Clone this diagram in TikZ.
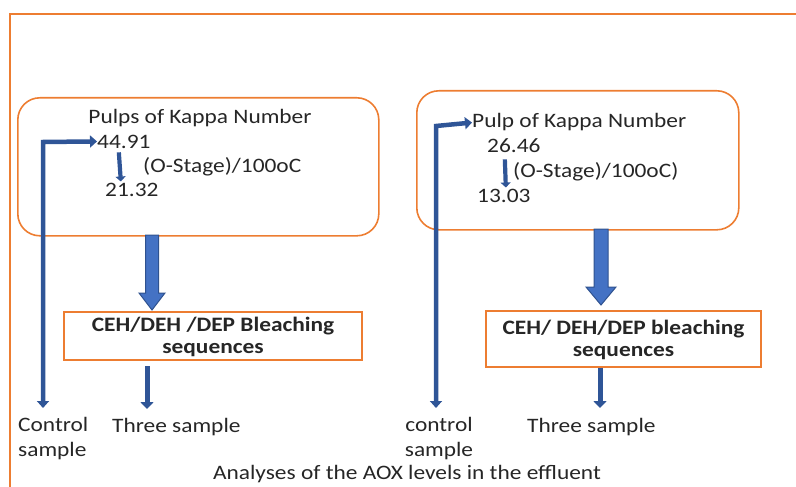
\documentclass[tikz,border=0pt]{standalone}
\usepackage{fontspec}
\setmainfont{Carlito}[FakeStretch=1.14]
\usetikzlibrary{arrows.meta,calc}
\definecolor{frameorange}{HTML}{ED7D31}
\definecolor{arrowblue}{HTML}{2F5597}
\definecolor{blockblue}{HTML}{4472C4}
\definecolor{blockedge}{HTML}{2F528F}
\definecolor{inktext}{HTML}{262626}

% wide block arrow: #1 = top of shaft, #2 = tip, #3 = half shaft, #4 = half head, #5 = head length
\newcommand\blockarrow[5]{%
  \filldraw[fill=blockblue,draw=blockedge,line width=1pt,line join=miter]
    ($(#1)+(-#3,0)$) -- ($(#2)+(-#3,-#5)$) -- ($(#2)+(-#4,-#5)$) -- (#2)
    -- ($(#2)+(#4,-#5)$) -- ($(#2)+(#3,-#5)$) -- ($(#1)+(#3,0)$) -- cycle;}

\begin{document}
\begin{tikzpicture}[x=1pt,y=-1pt,
  txt/.style={font=\fontsize{20.5}{25}\selectfont, inner sep=0pt, text=inktext},
  seqtxt/.style={font=\fontsize{20.5}{21.5}\selectfont\bfseries, align=center, text=inktext},
  roundbox/.style={draw=frameorange, line width=1.6pt, rounded corners=22pt, anchor=north west, inner sep=0pt},
  seqbox/.style={draw=frameorange, line width=1.8pt, inner sep=0pt},
  ctlarrow/.style={draw=arrowblue, line width=4.5pt, line join=miter,
    {Triangle[length=7pt,width=12pt]}-{Triangle[length=7pt,width=12pt]}},
  downarrow/.style={draw=arrowblue, line width=5pt, -{Triangle[length=7pt,width=13pt]}},
  smallarrow/.style={draw=arrowblue, line width=4.2pt, -{Triangle[length=5pt,width=10pt]}},
]
\useasboundingbox (0,0) rectangle (796,487);

% outer frame
\draw[frameorange, line width=1.5pt] (10,487) -- (10,14) -- (796,14);

% ---- left branch ----
\node[roundbox, minimum width=361pt, minimum height=138pt] (box1) at (17,97) {};
\node[txt, anchor=base] (title1) at (200,124) {Pulps of Kappa Number};
\node[txt, anchor=base west] (k1a) at (97,148) {44.91};
\node[txt, anchor=base west] (stage1) at (143,172) {(O-Stage)/100oC};
\node[txt, anchor=base west] (k1b) at (105,196) {21.32};
\draw[smallarrow] ([xshift=-5pt,yshift=-4pt]k1a.south) -- ([xshift=-11pt,yshift=1pt]k1b.north);

\node[seqbox, minimum width=298pt, minimum height=48pt] (seq1) at (213,336) {};
\node[seqtxt] (seq1txt) at (213,337) {CEH/DEH /DEP Bleaching\\sequences};

\coordinate (b1top) at (152,235);
\coordinate (b1tip) at (152,310);
\blockarrow{b1top}{b1tip}{6.5}{13}{17}

\node[txt, anchor=north west, align=left] (ctl1) at (18,417.5) {Control\\sample};
\node[txt, anchor=base west] (three1) at (112,432) {Three sample};
\coordinate (c1corner) at (43,142);
\draw[ctlarrow] ([xshift=25pt,yshift=9.5pt]ctl1.north west) -- (c1corner) -- (k1a.west);
\draw[downarrow] (147,366) -- (147,409);

% ---- right branch ----
\node[roundbox, minimum width=322pt, minimum height=139pt] (box2) at (416,90) {};
\node[txt, anchor=base west] (title2) at (472,128) {Pulp of Kappa Number};
\node[txt, anchor=base west] (k2a) at (487,153) {26.46};
\node[txt, anchor=base west] (stage2) at (513,177) {(O-Stage)/100oC)};
\node[txt, anchor=base west] (k2b) at (477,202) {13.03};
\draw[smallarrow] ([xshift=-9pt,yshift=-6pt]k2a.south) -- ([xshift=2pt,yshift=1pt]k2b.north);

\node[seqbox, minimum width=275pt, minimum height=56pt] (seq2) at (623.5,339) {};
\node[seqtxt] (seq2txt) at (623.5,340) {CEH/ DEH/DEP bleaching\\sequences};

\coordinate (b2top) at (601,229);
\coordinate (b2tip) at (601,305);
\blockarrow{b2top}{b2tip}{7}{15}{18}

\node[txt, anchor=north, align=center] (ctl2) at (439,417.5) {control\\sample};
\node[txt, anchor=base west] (three2) at (527,432) {Three sample};
\coordinate (c2corner) at (436,126);
\draw[ctlarrow] ([xshift=-3pt,yshift=9.5pt]ctl2.north) -- (c2corner) -- (title2.west);
\draw[downarrow] (seq2.south) ++(-23.5,0) -- (600,408);

% ---- caption ----
\node[txt, anchor=base] (caption) at (407,479) {Analyses of the AOX levels in the effluent};
\end{tikzpicture}
\end{document}
